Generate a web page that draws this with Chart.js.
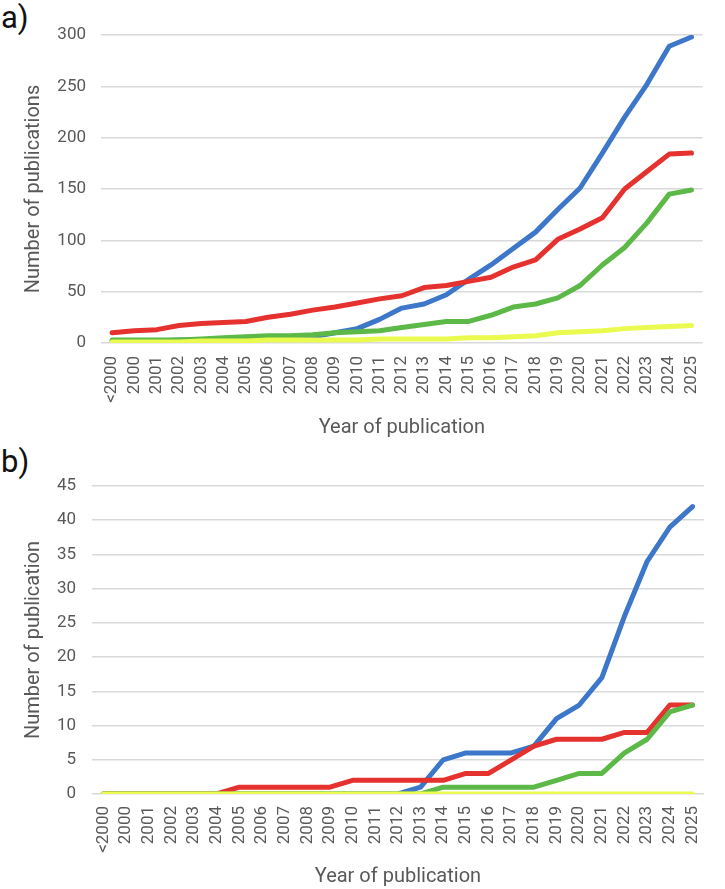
<!DOCTYPE html>
<html>
<head>
<meta charset="utf-8">
<script src="https://cdn.jsdelivr.net/npm/chart.js@4.4.1/dist/chart.umd.min.js"></script>
<style>
  body { margin: 0; background: #fff; width: 725px; height: 889px; position: relative; overflow: hidden; font-family: Roboto, sans-serif; }
  .tag { position: absolute; left: 1px; font-size: 31px; line-height: 1; color: #111; }
  #boxA { position: absolute; left: 0; top: 0; width: 725px; height: 440px; }
  #boxB { position: absolute; left: 0; top: 440px; width: 725px; height: 449px; }
</style>
</head>
<body>
<div class="tag" style="top:2px">a)</div>
<div class="tag" style="top:446px">b)</div>
<div id="boxA"><canvas id="chartA" width="725" height="440"></canvas></div>
<div id="boxB"><canvas id="chartB" width="725" height="449"></canvas></div>
<script>
const years = ['<2000', '2000', '2001', '2002', '2003', '2004', '2005', '2006', '2007', '2008',
  '2009', '2010', '2011', '2012', '2013', '2014', '2015', '2016', '2017', '2018',
  '2019', '2020', '2021', '2022', '2023', '2024', '2025'];

// panel a)
const blueA = [2, 2, 2, 3, 3, 4, 4, 5, 5, 6, 10, 14, 23, 34, 38, 47, 62, 76, 92, 108, 130, 151, 185, 220, 252, 289, 298];
const redA = [10, 12, 13, 17, 19, 20, 21, 25, 28, 32, 35, 39, 43, 46, 54, 56, 60, 64, 74, 81, 101, 111, 122, 150, 167, 184, 185];
const greenA = [3, 3, 3, 3, 4, 5, 6, 7, 7, 8, 10, 11, 12, 15, 18, 21, 21, 27, 35, 38, 44, 56, 76, 93, 117, 145, 149];
const yellowA = [1, 1, 1, 1, 2, 2, 2, 3, 3, 3, 3, 3, 4, 4, 4, 4, 5, 5, 6, 7, 10, 11, 12, 14, 15, 16, 17];

// panel b)
const blueB = [0, 0, 0, 0, 0, 0, 0, 0, 0, 0, 0, 0, 0, 0, 1, 5, 6, 6, 6, 7, 11, 13, 17, 26, 34, 39, 42];
const redB = [0, 0, 0, 0, 0, 0, 1, 1, 1, 1, 1, 2, 2, 2, 2, 2, 3, 3, 5, 7, 8, 8, 8, 9, 9, 13, 13];
const greenB = [0, 0, 0, 0, 0, 0, 0, 0, 0, 0, 0, 0, 0, 0, 0, 1, 1, 1, 1, 1, 2, 3, 3, 6, 8, 12, 13];
const yellowB = [0, 0, 0, 0, 0, 0, 0, 0, 0, 0, 0, 0, 0, 0, 0, 0, 0, 0, 0, 0, 0, 0, 0, 0, 0, 0, 0];

const BLUE = '#3D77C9';
const RED = '#E5322F';
const GREEN = '#5CB947';
const YELLOW = '#EAFA4E';
const GREY = '#595959';

function line(data, color) {
  return {
    data: data,
    borderColor: color,
    backgroundColor: color,
    borderWidth: 5,
    pointRadius: 0,
    tension: 0,
    borderJoinStyle: 'round',
    borderCapStyle: 'round'
  };
}

function buildChart(id, sets, yMax, yStep, yTitle, g) {
  return new Chart(document.getElementById(id), {
    type: 'line',
    data: {
      labels: years,
      // first dataset is painted on top
      datasets: [line(sets[3], YELLOW), line(sets[2], GREEN), line(sets[1], RED), line(sets[0], BLUE)]
    },
    options: {
      responsive: false,
      animation: false,
      layout: { padding: { top: g.top, right: 5, left: 0, bottom: 0 } },
      plugins: { legend: { display: false }, tooltip: { enabled: false } },
      scales: {
        x: {
          offset: true,
          grid: { display: false, drawTicks: false },
          border: { display: false },
          ticks: {
            autoSkip: false, minRotation: 90, maxRotation: 90, padding: g.xTickPad,
            color: GREY, font: { family: 'Roboto', size: 17 }
          },
          title: {
            display: true, text: 'Year of publication', color: GREY,
            font: { family: 'Roboto', size: 20 }, padding: { top: g.xTitlePad, bottom: 0 }
          },
          afterFit: s => { s.height = g.xh; }
        },
        y: {
          min: 0, max: yMax,
          grid: { color: '#D9D9D9', lineWidth: 1.5, drawTicks: false },
          border: { display: false },
          ticks: {
            stepSize: yStep, padding: g.tickPad,
            color: GREY, font: { family: 'Roboto', size: 17 }
          },
          title: {
            display: true, text: yTitle, color: GREY,
            font: { family: 'Roboto', size: 20 }, padding: { top: g.yTitlePad, bottom: 0 }
          },
          afterFit: s => { s.width = g.yw; }
        }
      }
    }
  });
}

buildChart('chartA', [blueA, redA, greenA, yellowA], 300, 50, 'Number of publications',
  { top: 35, xh: 97, yw: 101, tickPad: 15, xTickPad: 13, xTitlePad: 4, yTitlePad: 22 });
buildChart('chartB', [blueB, redB, greenB, yellowB], 45, 5, 'Number of publication',
  { top: 46, xh: 95, yw: 92, tickPad: 16, xTickPad: 12, xTitlePad: 2, yTitlePad: 22 });
</script>
</body>
</html>
